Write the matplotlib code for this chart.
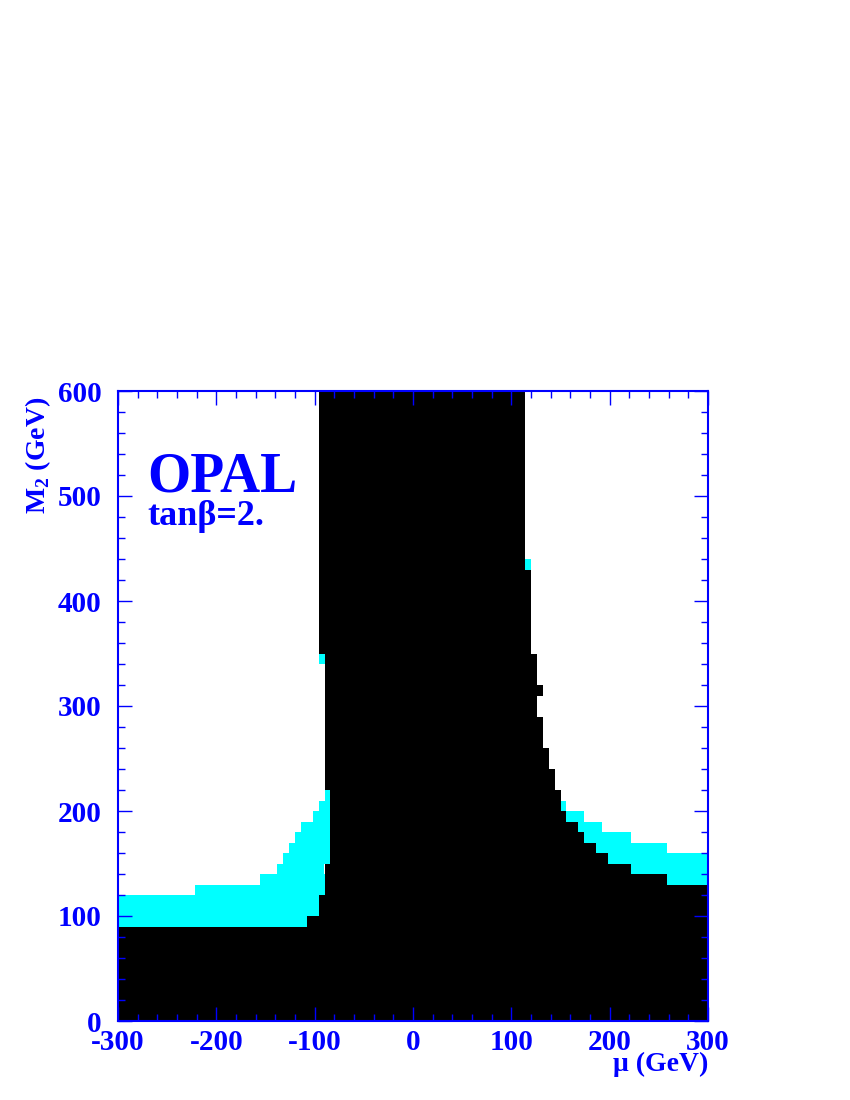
import matplotlib
matplotlib.use("Agg")
import matplotlib.pyplot as plt
from matplotlib.ticker import MultipleLocator

plt.rcParams["axes.unicode_minus"] = False
plt.rcParams["mathtext.fontset"] = "custom"
plt.rcParams["mathtext.bf"] = "Liberation Serif:bold"
plt.rcParams["mathtext.rm"] = "Liberation Serif:bold"

# excluded region (black), one row per M2 band: M2 from/to, mu from/to
black_m2_lo = [0, 90, 100, 120, 130, 140, 150, 160, 170, 180, 190, 200, 210,
               220, 240, 260, 290, 310, 320, 340, 350, 430]
black_m2_hi = [90, 100, 120, 130, 140, 150, 160, 170, 180, 190, 200, 210, 220,
               240, 260, 290, 310, 320, 340, 350, 430, 600]
black_mu_lo = [-300, -108, -96, -90, -90, -90, -84, -84, -84, -84, -84, -84, -84,
               -90, -90, -90, -90, -90, -90, -90, -96, -96]
black_mu_hi = [300, 300, 300, 300, 258, 222, 198, 186, 174, 168, 156, 150, 150,
               144, 138, 132, 126, 132, 126, 126, 120, 114]

# extra cells (cyan)
cyan_m2_lo = [340, 210, 200, 190, 180, 170, 160, 150, 140, 130, 120, 100, 90,
              430, 200, 190, 180, 170, 160, 150, 140, 130]
cyan_m2_hi = [350, 220, 210, 200, 190, 180, 170, 160, 150, 140, 130, 120, 100,
              440, 210, 200, 190, 180, 170, 160, 150, 140]
cyan_mu_lo = [-96, -90, -96, -102, -114, -120, -126, -132, -138, -156, -222, -300, -300,
              114, 150, 156, 168, 174, 186, 198, 222, 258]
cyan_mu_hi = [-90, -84, -84, -84, -84, -84, -84, -84, -90, -90, -90, -96, -108,
              120, 156, 174, 192, 222, 258, 300, 300, 300]

blue = "#0000ff"
font = ["Liberation Serif", "DejaVu Serif"]

fig = plt.figure(figsize=(8.5, 11), dpi=100)
ax = fig.add_axes([118/850, 1-1021/1100, 590/850, 630/1100])

w = [b - a for a, b in zip(black_mu_lo, black_mu_hi)]
h = [b - a for a, b in zip(black_m2_lo, black_m2_hi)]
ax.barh(black_m2_lo, w, height=h, left=black_mu_lo, align="edge",
        color="black", linewidth=0)

w = [b - a for a, b in zip(cyan_mu_lo, cyan_mu_hi)]
h = [b - a for a, b in zip(cyan_m2_lo, cyan_m2_hi)]
ax.barh(cyan_m2_lo, w, height=h, left=cyan_mu_lo, align="edge",
        color="#00ffff", linewidth=0)

ax.set_xlim(-300, 300)
ax.set_ylim(0, 600)
ax.xaxis.set_major_locator(MultipleLocator(100))
ax.xaxis.set_minor_locator(MultipleLocator(20))
ax.yaxis.set_major_locator(MultipleLocator(100))
ax.yaxis.set_minor_locator(MultipleLocator(20))
ax.tick_params(which="both", direction="in", top=True, right=True, colors=blue)
ax.tick_params(which="major", length=10, width=1)
ax.tick_params(which="minor", length=5, width=1)
ax.tick_params(axis="y", pad=12)
ax.tick_params(axis="x", pad=6)
for s in ax.spines.values():
    s.set_color(blue)
    s.set_linewidth(1.5)
    s.set_zorder(5)

for lab in ax.get_xticklabels() + ax.get_yticklabels():
    lab.set_family(font)
    lab.set_weight("bold")
    lab.set_fontsize(21)
    lab.set_color(blue)

ax.text(0.05, 0.84, "OPAL", transform=ax.transAxes, family=font,
        fontweight="bold", fontsize=40, color=blue)
ax.text(0.05, 0.788, "tan\u03b2=2.", transform=ax.transAxes, family=font,
        fontweight="bold", fontsize=26, color=blue)

fig.text(38/850, 1-455/1100, "M$_\\mathbf{2}$ (GeV)", rotation=90, ha="center",
         va="center", family=font, fontweight="bold", fontsize=20, color=blue)
fig.text(708/850, 1-1071/1100, "\u03bc (GeV)", ha="right", va="baseline",
         family=font, fontweight="bold", fontsize=20, color=blue)

fig.savefig("out.png", dpi=100)
